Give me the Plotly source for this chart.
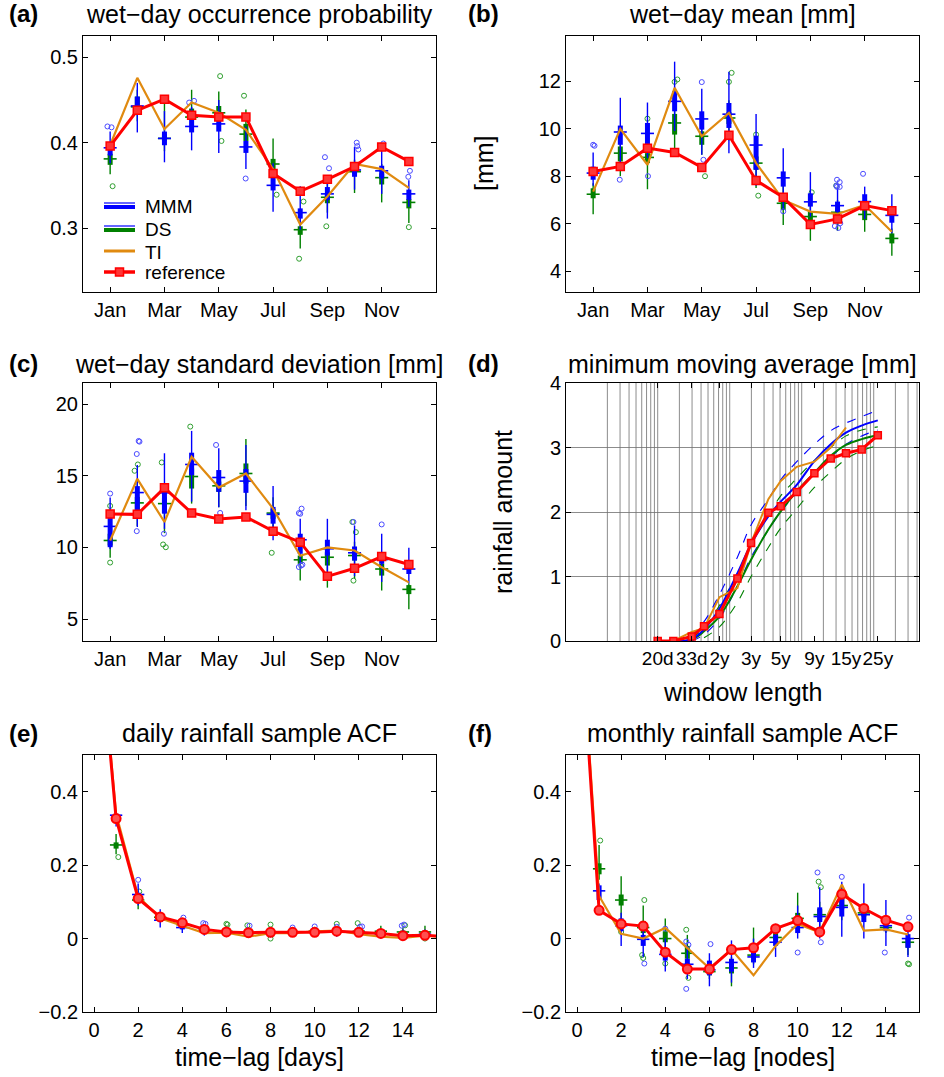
import plotly.graph_objects as go

FONT = "Liberation Sans, Arial, Helvetica, sans-serif"
W, H = 944, 1077
BLUE = "#0000ff"; BLUE_O = "#4a4aff"
GREEN = "#008000"; GREEN_O = "#2f9f2f"
ORANGE = "#e08a10"; RED = "#ff0000"

# ---------------- data ----------------
months = list(range(1, 13))
month_ticks = [1, 3, 5, 7, 9, 11]
month_labels = ["Jan", "Mar", "May", "Jul", "Sep", "Nov"]
legend_names = ["MMM", "DS", "TI", "reference"]

# (a) wet-day occurrence probability
a_ref = [0.396, 0.438, 0.451, 0.432, 0.430, 0.430, 0.364, 0.343, 0.357, 0.372, 0.395, 0.378]
a_ti = [0.397, 0.476, 0.416, 0.447, 0.435, 0.415, 0.369, 0.304, 0.337, 0.375, 0.369, 0.347]
a_mmm_med = [0.394, 0.443, 0.405, 0.419, 0.422, 0.395, 0.350, 0.318, 0.340, 0.368, 0.367, 0.340]
a_mmm_q1 = [0.385, 0.435, 0.397, 0.412, 0.413, 0.388, 0.344, 0.311, 0.333, 0.360, 0.358, 0.333]
a_mmm_q3 = [0.397, 0.454, 0.413, 0.427, 0.430, 0.402, 0.360, 0.323, 0.348, 0.376, 0.373, 0.345]
a_mmm_lo = [0.376, 0.412, 0.377, 0.391, 0.388, 0.369, 0.319, 0.298, 0.311, 0.345, 0.340, 0.325]
a_mmm_hi = [0.413, 0.470, 0.437, 0.442, 0.450, 0.419, 0.376, 0.349, 0.358, 0.395, 0.396, 0.356]
a_mmm_out_x = [0.90, 1.05, 3.91, 4.09, 5.99, 8.91, 9.06, 10.08, 10.10, 10.14, 11.06, 11.98, 12.04]
a_mmm_out_y = [0.419, 0.418, 0.447, 0.449, 0.358, 0.383, 0.370, 0.400, 0.396, 0.392, 0.399, 0.360, 0.367]
a_ds_med = [0.381, 0.442, 0.405, 0.430, 0.435, 0.410, 0.375, 0.298, 0.336, 0.366, 0.359, 0.330]
a_ds_q1 = [0.374, 0.439, 0.402, 0.427, 0.431, 0.402, 0.366, 0.292, 0.329, 0.363, 0.351, 0.323]
a_ds_q3 = [0.387, 0.454, 0.410, 0.440, 0.443, 0.422, 0.381, 0.302, 0.341, 0.372, 0.364, 0.334]
a_ds_lo = [0.363, 0.425, 0.390, 0.415, 0.420, 0.390, 0.352, 0.276, 0.318, 0.341, 0.330, 0.306]
a_ds_hi = [0.395, 0.462, 0.446, 0.462, 0.460, 0.439, 0.405, 0.310, 0.352, 0.380, 0.375, 0.340]
a_ds_out_x = [1.09, 5.05, 5.10, 5.93, 7.13, 7.96, 8.12, 8.96, 12.0]
a_ds_out_y = [0.349, 0.478, 0.402, 0.455, 0.339, 0.264, 0.331, 0.302, 0.301]

# (b) wet-day mean [mm]
b_ref = [8.20, 8.41, 9.18, 9.00, 8.37, 9.72, 7.82, 7.11, 5.97, 6.20, 6.76, 6.55]
b_ti = [7.35, 9.99, 8.48, 11.72, 9.68, 10.66, 8.55, 7.00, 6.51, 6.41, 6.79, 5.66]
b_mmm_med = [8.13, 9.86, 9.80, 11.15, 10.41, 10.61, 9.31, 7.93, 6.92, 6.76, 6.93, 6.35]
b_mmm_q1 = [7.85, 9.32, 9.32, 10.73, 9.96, 10.03, 8.27, 7.56, 6.72, 6.50, 6.65, 6.04]
b_mmm_q3 = [8.40, 10.13, 10.24, 11.58, 10.73, 11.08, 9.70, 8.20, 7.28, 6.93, 7.24, 6.58]
b_mmm_lo = [7.60, 8.27, 8.76, 9.90, 8.90, 8.97, 7.60, 6.60, 6.30, 6.00, 6.20, 5.60]
b_mmm_hi = [9.00, 11.30, 11.10, 12.82, 11.68, 12.40, 10.62, 9.18, 8.17, 7.50, 7.56, 7.24]
b_mmm_out_x = [1.00, 1.05, 1.98, 3.02, 5.00, 5.06, 8.00, 9.98, 9.96, 10.08, 9.90, 10.03, 10.10, 9.98, 10.08, 10.94]
b_mmm_out_y = [9.32, 9.28, 7.85, 8.00, 11.96, 8.69, 6.52, 7.85, 7.60, 7.75, 5.90, 5.82, 6.02, 7.55, 7.55, 8.10]
b_ds_med = [7.24, 8.97, 8.79, 10.24, 9.68, 10.45, 8.55, 6.86, 6.30, 6.48, 6.39, 5.38]
b_ds_q1 = [7.07, 8.62, 8.55, 9.75, 9.32, 10.20, 8.27, 6.58, 6.08, 6.30, 6.15, 5.17]
b_ds_q3 = [7.49, 9.25, 8.97, 10.62, 9.89, 10.70, 8.83, 7.14, 6.51, 6.65, 6.58, 5.59]
b_ds_lo = [6.40, 8.00, 7.45, 9.11, 8.90, 9.50, 7.50, 5.94, 5.28, 5.70, 5.66, 4.65]
b_ds_hi = [7.70, 9.60, 9.40, 11.50, 10.30, 11.20, 9.50, 7.60, 7.00, 7.00, 7.00, 5.80]
b_ds_out_x = [3.00, 4.00, 4.10, 5.12, 6.00, 6.10, 7.00, 7.08, 9.05, 9.95]
b_ds_out_y = [10.42, 11.97, 12.07, 8.00, 11.97, 12.35, 9.75, 7.18, 7.32, 7.60]

# (c) wet-day standard deviation [mm]
c_ref = [12.34, 12.31, 14.16, 12.41, 11.99, 12.13, 11.14, 10.37, 7.99, 8.55, 9.37, 8.81]
c_ti = [10.49, 14.79, 11.78, 16.33, 14.18, 15.16, 12.71, 9.42, 10.00, 9.79, 8.62, 7.57]
c_mmm_med = [11.47, 13.83, 13.81, 15.79, 14.88, 14.63, 12.31, 10.54, 9.91, 9.63, 9.16, 8.50]
c_mmm_q1 = [10.02, 12.48, 12.36, 15.05, 13.88, 13.81, 11.66, 9.56, 9.44, 9.09, 8.86, 8.15]
c_mmm_q3 = [12.13, 14.28, 14.46, 16.61, 15.40, 15.47, 12.83, 10.96, 10.54, 10.07, 9.67, 8.86]
c_mmm_lo = [9.90, 11.43, 11.30, 13.20, 12.80, 12.59, 10.50, 8.90, 8.20, 8.00, 7.60, 7.50]
c_mmm_hi = [13.48, 15.75, 16.57, 18.13, 16.92, 17.15, 14.28, 12.00, 12.00, 11.54, 10.96, 9.98]
c_mmm_out_x = [1.00, 1.98, 2.05, 2.08, 1.98, 2.98, 4.90, 5.05, 7.95, 8.00, 8.05, 7.95, 8.03, 8.08, 9.96, 11.00]
c_mmm_out_y = [13.76, 16.52, 17.43, 17.38, 11.14, 10.96, 17.15, 12.41, 12.40, 12.35, 12.71, 8.64, 8.74, 8.80, 11.78, 11.61]
c_ds_med = [10.49, 13.11, 13.06, 14.95, 14.30, 15.16, 12.40, 9.14, 9.32, 9.44, 8.50, 7.08]
c_ds_q1 = [10.14, 12.59, 12.40, 14.11, 13.88, 14.46, 12.00, 8.86, 8.74, 9.10, 8.04, 6.75]
c_ds_q3 = [10.96, 13.53, 13.50, 15.51, 14.60, 15.86, 12.70, 9.44, 9.67, 9.80, 8.86, 7.38]
c_ds_lo = [9.28, 11.50, 11.00, 13.06, 12.80, 12.90, 11.00, 7.69, 7.20, 7.80, 7.00, 5.70]
c_ds_hi = [12.00, 14.60, 14.30, 16.50, 15.20, 17.57, 13.50, 9.80, 10.30, 10.40, 9.60, 7.50]
c_ds_out_x = [1.00, 1.00, 1.90, 2.02, 2.90, 2.95, 3.05, 3.95, 6.95, 9.92, 10.05, 9.96]
c_ds_out_y = [12.90, 8.95, 15.35, 15.79, 15.93, 10.21, 10.02, 18.43, 9.63, 11.78, 11.07, 7.69]

# (d) minimum moving average [mm]
window_x = [10, 16.5, 29.7, 44, 72, 128, 198, 344, 511, 853, 1500, 2530, 4120, 6810, 11400]
window_tick_idx = [0, 2, 4, 6, 8, 10, 12, 14]
window_labels = ["20d", "33d", "2y", "3y", "5y", "9y", "15y", "25y"]
d_ref = [0.0, 0.0, 0.07, 0.23, 0.42, 0.97, 1.52, 1.99, 2.09, 2.31, 2.60, 2.83, 2.91, 2.97, 3.19]
d_ti = [None, 0.0, 0.14, 0.20, 0.68, 0.82, 1.52, 2.20, 2.48, 2.70, 2.78, 3.00, 3.31, None, None]
d_mmm = [None, 0.0, 0.03, 0.18, 0.50, 1.05, 1.50, 1.93, 2.16, 2.42, 2.79, 3.05, 3.23, 3.34, 3.42]
d_mmm_up = [None, 0.0, 0.10, 0.30, 0.72, 1.30, 1.80, 2.20, 2.50, 2.78, 3.05, 3.26, 3.38, 3.48, 3.58]
d_mmm_lo = [None, None, 0.0, 0.10, 0.35, 0.85, 1.30, 1.72, 2.00, 2.30, 2.60, 2.85, 3.05, 3.18, 3.27]
d_ds = [None, 0.0, 0.02, 0.15, 0.38, 0.85, 1.26, 1.73, 2.01, 2.32, 2.61, 2.87, 3.04, 3.13, 3.19]
d_ds_up = [None, None, 0.05, 0.20, 0.55, 1.05, 1.50, 1.95, 2.25, 2.52, 2.80, 3.00, 3.18, 3.27, 3.32]
d_ds_lo = [None, None, None, 0.05, 0.22, 0.60, 1.00, 1.45, 1.75, 2.05, 2.38, 2.62, 2.82, 2.95, 3.03]

# (e) daily rainfall sample ACF
lags_line = list(range(0, 17))
lags = list(range(1, 16))
e_ref = [1.0, 0.327, 0.109, 0.059, 0.043, 0.025, 0.018, 0.016, 0.017, 0.017, 0.017, 0.020, 0.017, 0.014, 0.008, 0.009, 0.005]
e_ti = [1.0, 0.340, 0.115, 0.055, 0.035, 0.015, 0.016, 0.005, 0.015, 0.015, 0.020, 0.022, 0.012, 0.005, 0.002, 0.008, 0.004]
e_mmm_med = [0.336, 0.120, 0.050, 0.030, 0.022, 0.018, 0.015, 0.016, 0.016, 0.018, 0.018, 0.018, 0.012, 0.010, 0.012]
e_mmm_q1 = [0.325, 0.110, 0.045, 0.025, 0.018, 0.014, 0.012, 0.012, 0.013, 0.014, 0.014, 0.014, 0.009, 0.007, 0.009]
e_mmm_q3 = [0.340, 0.125, 0.060, 0.040, 0.028, 0.022, 0.020, 0.020, 0.020, 0.022, 0.022, 0.022, 0.016, 0.014, 0.016]
e_mmm_lo = [0.305, 0.090, 0.030, 0.015, 0.008, 0.004, 0.003, 0.003, 0.005, 0.005, 0.005, 0.005, 0.000, -0.003, 0.000]
e_mmm_hi = [0.350, 0.150, 0.080, 0.050, 0.038, 0.032, 0.030, 0.030, 0.028, 0.030, 0.032, 0.030, 0.025, 0.025, 0.025]
e_mmm_out_x = [2.0, 4.05, 4.95, 5.05, 7.05, 9.0, 10.0, 11.0, 12.05, 12.15, 13.95, 14.05]
e_mmm_out_y = [0.160, 0.057, 0.042, 0.040, 0.035, 0.030, 0.033, 0.032, 0.032, 0.033, 0.035, 0.038]
e_ds_med = [0.255, 0.105, 0.058, 0.038, 0.022, 0.020, 0.016, 0.016, 0.016, 0.020, 0.020, 0.020, 0.020, 0.018, 0.018]
e_ds_q1 = [0.245, 0.100, 0.053, 0.034, 0.018, 0.016, 0.012, 0.012, 0.013, 0.016, 0.016, 0.016, 0.016, 0.014, 0.014]
e_ds_q3 = [0.262, 0.110, 0.062, 0.042, 0.026, 0.024, 0.020, 0.020, 0.020, 0.024, 0.024, 0.024, 0.024, 0.022, 0.022]
e_ds_lo = [0.230, 0.080, 0.045, 0.025, 0.010, 0.005, 0.004, 0.004, 0.005, 0.008, 0.008, 0.008, 0.005, 0.005, 0.005]
e_ds_hi = [0.285, 0.130, 0.070, 0.050, 0.035, 0.035, 0.030, 0.030, 0.028, 0.032, 0.032, 0.032, 0.035, 0.030, 0.035]
e_ds_out_x = [1.1, 2.05, 6.0, 6.05, 6.95, 8.0, 8.0, 11.0, 11.95, 14.1, 15.0]
e_ds_out_y = [0.222, 0.128, 0.040, 0.038, 0.036, 0.038, 0.000, 0.040, 0.042, 0.036, 0.000]

# (f) monthly rainfall sample ACF
f_ref = [1.0, 0.077, 0.040, 0.034, -0.037, -0.083, -0.083, -0.030, -0.025, 0.027, 0.049, 0.018, 0.121, 0.082, 0.050, 0.032]
f_ti = [1.0, 0.116, 0.013, 0.000, 0.029, -0.026, -0.081, -0.030, -0.100, -0.020, 0.040, 0.017, 0.147, 0.022, 0.025, 0.011]
f_mmm_med = [0.130, 0.035, -0.002, -0.043, -0.070, -0.085, -0.065, -0.050, -0.010, 0.030, 0.060, 0.085, 0.065, 0.035, 0.000]
f_mmm_q1 = [0.105, 0.020, -0.020, -0.060, -0.090, -0.100, -0.090, -0.065, -0.020, 0.015, 0.045, 0.060, 0.045, 0.020, -0.025]
f_mmm_q3 = [0.145, 0.055, 0.010, -0.035, -0.055, -0.060, -0.055, -0.030, 0.010, 0.050, 0.085, 0.110, 0.075, 0.045, 0.012]
f_mmm_lo = [0.100, -0.020, -0.050, -0.090, -0.110, -0.130, -0.120, -0.080, -0.050, 0.000, 0.000, 0.005, 0.000, -0.020, -0.050]
f_mmm_hi = [0.150, 0.070, 0.030, 0.000, -0.020, -0.040, -0.005, 0.000, 0.040, 0.090, 0.140, 0.155, 0.150, 0.105, 0.030]
f_mmm_out_x = [3.05, 4.0, 4.95, 4.95, 5.05, 6.05, 10.0, 10.9, 11.05, 12.0, 13.95, 15.05]
f_mmm_out_y = [-0.068, 0.027, -0.137, -0.008, -0.017, -0.015, -0.038, 0.180, -0.010, 0.168, -0.038, 0.057]
f_ds_med = [0.190, 0.105, 0.030, 0.000, -0.040, -0.090, -0.080, -0.045, 0.003, 0.055, 0.065, 0.090, 0.070, 0.030, -0.010]
f_ds_q1 = [0.175, 0.090, 0.015, -0.010, -0.055, -0.100, -0.095, -0.050, -0.005, 0.040, 0.050, 0.080, 0.060, 0.025, -0.025]
f_ds_q3 = [0.205, 0.120, 0.048, 0.020, -0.020, -0.075, -0.070, -0.040, 0.015, 0.070, 0.080, 0.110, 0.080, 0.040, 0.000]
f_ds_lo = [0.160, 0.050, -0.010, -0.040, -0.080, -0.110, -0.130, -0.070, -0.020, 0.020, 0.030, 0.050, 0.045, 0.015, -0.045]
f_ds_hi = [0.255, 0.170, 0.090, 0.055, 0.010, -0.070, -0.050, 0.030, 0.030, 0.125, 0.100, 0.140, 0.090, 0.050, 0.010]
f_ds_out_x = [1.05, 2.0, 3.05, 2.95, 3.0, 4.0, 4.95, 5.05, 10.95, 11.05, 15.0, 15.05]
f_ds_out_y = [0.267, 0.018, 0.105, -0.045, -0.053, -0.068, 0.024, -0.107, 0.155, 0.140, -0.068, -0.070]

acf_ticks = [0, 2, 4, 6, 8, 10, 12, 14]

# ---------------- helpers ----------------
fig = go.Figure()


def px_x(p):
    return p / W


def px_y(p):
    return 1 - p / H


def vseg(xs, a, b):
    X, Y = [], []
    for x, y0, y1 in zip(xs, a, b):
        X += [x, x, None]
        Y += [y0, y1, None]
    return X, Y


def hseg(xs, ys, hw):
    X, Y = [], []
    for x, y in zip(xs, ys):
        X += [x - hw, x + hw, None]
        Y += [y, y, None]
    return X, Y


def add_boxes(xa, ya, xs, lo, q1, med, q3, hi, ox, oy, color, ocolor, hw):
    X, Y = vseg(xs, lo, hi)
    fig.add_trace(go.Scatter(x=X, y=Y, mode="lines", line=dict(color=color, width=1.4),
                             xaxis=xa, yaxis=ya, showlegend=False, hoverinfo="skip"))
    X, Y = vseg(xs, q1, q3)
    fig.add_trace(go.Scatter(x=X, y=Y, mode="lines", line=dict(color=color, width=5),
                             xaxis=xa, yaxis=ya, showlegend=False, hoverinfo="skip"))
    X, Y = hseg(xs, med, hw)
    fig.add_trace(go.Scatter(x=X, y=Y, mode="lines", line=dict(color=color, width=1.6),
                             xaxis=xa, yaxis=ya, showlegend=False, hoverinfo="skip"))
    fig.add_trace(go.Scatter(x=ox, y=oy, mode="markers",
                             marker=dict(symbol="circle-open", size=5, color=ocolor, line=dict(width=1)),
                             xaxis=xa, yaxis=ya, showlegend=False, hoverinfo="skip"))


def add_month_panel(xa, ya, mmm, ds, ti, ref):
    add_boxes(xa, ya, months, *ds, GREEN, GREEN_O, 0.24)
    add_boxes(xa, ya, months, *mmm, BLUE, BLUE_O, 0.24)
    fig.add_trace(go.Scatter(x=months, y=ti, mode="lines", line=dict(color=ORANGE, width=2.2),
                             xaxis=xa, yaxis=ya, showlegend=False))
    fig.add_trace(go.Scatter(x=months, y=ref, mode="lines+markers", line=dict(color=RED, width=3),
                             marker=dict(symbol="square", size=8, color="#ff3535", line=dict(color=RED, width=1.5)),
                             xaxis=xa, yaxis=ya, showlegend=False))


def add_acf_panel(xa, ya, mmm, ds, ti, ref):
    add_boxes(xa, ya, lags, *ds, GREEN, GREEN_O, 0.28)
    add_boxes(xa, ya, lags, *mmm, BLUE, BLUE_O, 0.28)
    fig.add_trace(go.Scatter(x=lags_line[:len(ti)], y=ti, mode="lines", line=dict(color=ORANGE, width=2.2),
                             xaxis=xa, yaxis=ya, showlegend=False))
    fig.add_trace(go.Scatter(x=lags_line[:len(ref)], y=ref, mode="lines+markers", line=dict(color=RED, width=3),
                             marker=dict(symbol="circle", size=9, color="#ff5050", line=dict(color=RED, width=2)),
                             xaxis=xa, yaxis=ya, showlegend=False))


# ---------------- panels ----------------
add_month_panel("x", "y",
                (a_mmm_lo, a_mmm_q1, a_mmm_med, a_mmm_q3, a_mmm_hi, a_mmm_out_x, a_mmm_out_y),
                (a_ds_lo, a_ds_q1, a_ds_med, a_ds_q3, a_ds_hi, a_ds_out_x, a_ds_out_y), a_ti, a_ref)
add_month_panel("x2", "y2",
                (b_mmm_lo, b_mmm_q1, b_mmm_med, b_mmm_q3, b_mmm_hi, b_mmm_out_x, b_mmm_out_y),
                (b_ds_lo, b_ds_q1, b_ds_med, b_ds_q3, b_ds_hi, b_ds_out_x, b_ds_out_y), b_ti, b_ref)
add_month_panel("x3", "y3",
                (c_mmm_lo, c_mmm_q1, c_mmm_med, c_mmm_q3, c_mmm_hi, c_mmm_out_x, c_mmm_out_y),
                (c_ds_lo, c_ds_q1, c_ds_med, c_ds_q3, c_ds_hi, c_ds_out_x, c_ds_out_y), c_ti, c_ref)

# (d) log grid lines
gx, gy = [], []
for n in range(0, 5):
    for k in range(2, 11):
        v = k * 10 ** n
        if v < 42000:
            gx += [v, v, None]
            gy += [0, 4, None]
fig.add_trace(go.Scatter(x=gx, y=gy, mode="lines", line=dict(color="rgb(110,110,110)", width=0.8),
                         xaxis="x4", yaxis="y4", showlegend=False, hoverinfo="skip"))
for series, color in [(d_mmm_up, BLUE), (d_mmm_lo, BLUE), (d_ds_up, GREEN), (d_ds_lo, GREEN)]:
    fig.add_trace(go.Scatter(x=window_x, y=series, mode="lines",
                             line=dict(color=color, width=1.1, dash="dash", shape="spline"),
                             xaxis="x4", yaxis="y4", showlegend=False))
fig.add_trace(go.Scatter(x=window_x, y=d_ds, mode="lines", line=dict(color=GREEN, width=2, shape="spline"),
                         xaxis="x4", yaxis="y4", showlegend=False))
fig.add_trace(go.Scatter(x=window_x, y=d_mmm, mode="lines", line=dict(color=BLUE, width=2, shape="spline"),
                         xaxis="x4", yaxis="y4", showlegend=False))
fig.add_trace(go.Scatter(x=window_x, y=d_ti, mode="lines", line=dict(color=ORANGE, width=2),
                         xaxis="x4", yaxis="y4", showlegend=False))
fig.add_trace(go.Scatter(x=window_x, y=d_ref, mode="lines+markers", line=dict(color=RED, width=3),
                         marker=dict(symbol="square", size=7, color="#ff3535", line=dict(color=RED, width=1.5)),
                         xaxis="x4", yaxis="y4", showlegend=False))

add_acf_panel("x5", "y5",
              (e_mmm_lo, e_mmm_q1, e_mmm_med, e_mmm_q3, e_mmm_hi, e_mmm_out_x, e_mmm_out_y),
              (e_ds_lo, e_ds_q1, e_ds_med, e_ds_q3, e_ds_hi, e_ds_out_x, e_ds_out_y), e_ti, e_ref)
add_acf_panel("x6", "y6",
              (f_mmm_lo, f_mmm_q1, f_mmm_med, f_mmm_q3, f_mmm_hi, f_mmm_out_x, f_mmm_out_y),
              (f_ds_lo, f_ds_q1, f_ds_med, f_ds_q3, f_ds_hi, f_ds_out_x, f_ds_out_y), f_ti, f_ref)


# ---------------- axes ----------------
def axis(dom, anchor, **kw):
    d = dict(domain=dom, anchor=anchor, showline=True, linecolor="black", linewidth=1,
             mirror="ticks", ticks="inside", ticklen=5, tickcolor="black", showgrid=False,
             zeroline=False, automargin=False, tickfont=dict(family=FONT, size=20, color="black"))
    d.update(kw)
    return d


XL = [px_x(83), px_x(436)]
XR = [px_x(566), px_x(919)]
Y1 = [px_y(292), px_y(36)]
Y2 = [px_y(641), px_y(383)]
Y3 = [px_y(1012), px_y(755)]

mon = dict(range=[0, 13], tickmode="array", tickvals=month_ticks, ticktext=month_labels, tickangle=0)
acfx = dict(range=[-0.5, 15.5], tickmode="array", tickvals=acf_ticks,
            ticktext=[str(t) for t in acf_ticks], tickangle=0)
acfy = dict(range=[-0.2, 0.5], tickmode="array", tickvals=[-0.2, 0, 0.2, 0.4],
            ticktext=["\u22120.2", "0", "0.2", "0.4"])

fig.update_layout(
    template=None,
    xaxis=axis(XL, "y", **mon),
    yaxis=axis(Y1, "x", range=[0.225, 0.525], tickmode="array", tickvals=[0.3, 0.4, 0.5],
               ticktext=["0.3", "0.4", "0.5"]),
    xaxis2=axis(XR, "y2", **mon),
    yaxis2=axis(Y1, "x2", range=[3.125, 13.9], tickmode="array", tickvals=[4, 6, 8, 10, 12]),
    xaxis3=axis(XL, "y3", **mon),
    yaxis3=axis(Y2, "x3", range=[3.48, 21.47], tickmode="array", tickvals=[5, 10, 15, 20]),
    xaxis4=axis(XR, "y4", type="log", range=[-0.2736, 4.629], tickmode="array", tickangle=0,
                tickvals=[window_x[i] for i in window_tick_idx], ticktext=window_labels,
                tickfont=dict(family=FONT, size=19, color="black")),
    yaxis4=axis(Y2, "x4", range=[0, 4], tickmode="array", tickvals=[0, 1, 2, 3, 4],
                showgrid=True, gridcolor="rgb(140,140,140)", gridwidth=1),
    xaxis5=axis(XL, "y5", **acfx),
    yaxis5=axis(Y3, "x5", **acfy),
    xaxis6=axis(XR, "y6", **acfx),
    yaxis6=axis(Y3, "x6", **acfy),
)

# ---------------- text ----------------
ann = []
shapes = []


def text(x, y, s, size=25, bold=False, angle=0, xanchor="center"):
    ann.append(dict(x=px_x(x), y=px_y(y), xref="paper", yref="paper", text=("<b>%s</b>" % s) if bold else s,
                    showarrow=False, xanchor=xanchor, yanchor="middle", textangle=angle,
                    font=dict(family=FONT, size=size, color="black")))


def hline(x0, x1, y, color, width):
    shapes.append(dict(type="line", xref="paper", yref="paper", x0=px_x(x0), x1=px_x(x1),
                       y0=px_y(y), y1=px_y(y), line=dict(color=color, width=width)))


text(7, 14, "(a)", size=24, bold=True, xanchor="left")
text(259.5, 14, "wet\u2212day occurrence probability")
text(466, 14, "(b)", size=24, bold=True, xanchor="left")
text(742.5, 14, "wet\u2212day mean [mm]")
text(7, 364, "(c)", size=24, bold=True, xanchor="left")
text(259.5, 364, "wet\u2212day standard deviation [mm]")
text(466, 364, "(d)", size=24, bold=True, xanchor="left")
text(742.5, 364, "minimum moving average [mm]")
text(7, 733, "(e)", size=24, bold=True, xanchor="left")
text(259.5, 733, "daily rainfall sample ACF")
text(466, 733, "(f)", size=24, bold=True, xanchor="left")
text(742.5, 733, "monthly rainfall sample ACF")

text(484, 163, "[mm]", size=25, angle=-90)
text(503, 512, "rainfall amount", size=25, angle=-90)
text(742.5, 692, "window length", size=25)
text(259.5, 1057, "time\u2212lag [days]", size=25)
text(742.5, 1057, "time\u2212lag [nodes]", size=25)

# legend drawn inside panel (a)
LX0, LX1, LT = 104, 135, 143
rows = [206, 229, 251, 272]
hline(LX0, LX1, rows[0] - 3, BLUE, 1.2)
hline(LX0, LX1, rows[0] + 1, BLUE, 4)
hline(LX0, LX1, rows[1] - 3, BLUE, 1.2)
hline(LX0, LX1, rows[1] + 1, GREEN, 4)
hline(LX0, LX1, rows[2], ORANGE, 3)
hline(LX0, LX1, rows[3], RED, 3.5)
shapes.append(dict(type="rect", xref="paper", yref="paper",
                   x0=px_x(115.5), x1=px_x(123.5), y0=px_y(rows[3] + 4), y1=px_y(rows[3] - 4),
                   fillcolor="#ff3535", line=dict(color=RED, width=1.5)))
for name, ry in zip(legend_names, rows):
    text(LT, ry + 1, name, size=19, xanchor="left")

fig.update_layout(
    annotations=ann, shapes=shapes,
    width=W, height=H, autosize=False,
    margin=dict(l=0, r=0, t=0, b=0, pad=0, autoexpand=False),
    paper_bgcolor="white", plot_bgcolor="white",
    font=dict(family=FONT, size=20, color="black"),
    showlegend=False,
)

fig.write_html("out.html", config={"displayModeBar": False, "staticPlot": True},
               post_script="document.body.style.margin='0';document.body.style.padding='0';"
                           "document.body.style.overflow='hidden';")
